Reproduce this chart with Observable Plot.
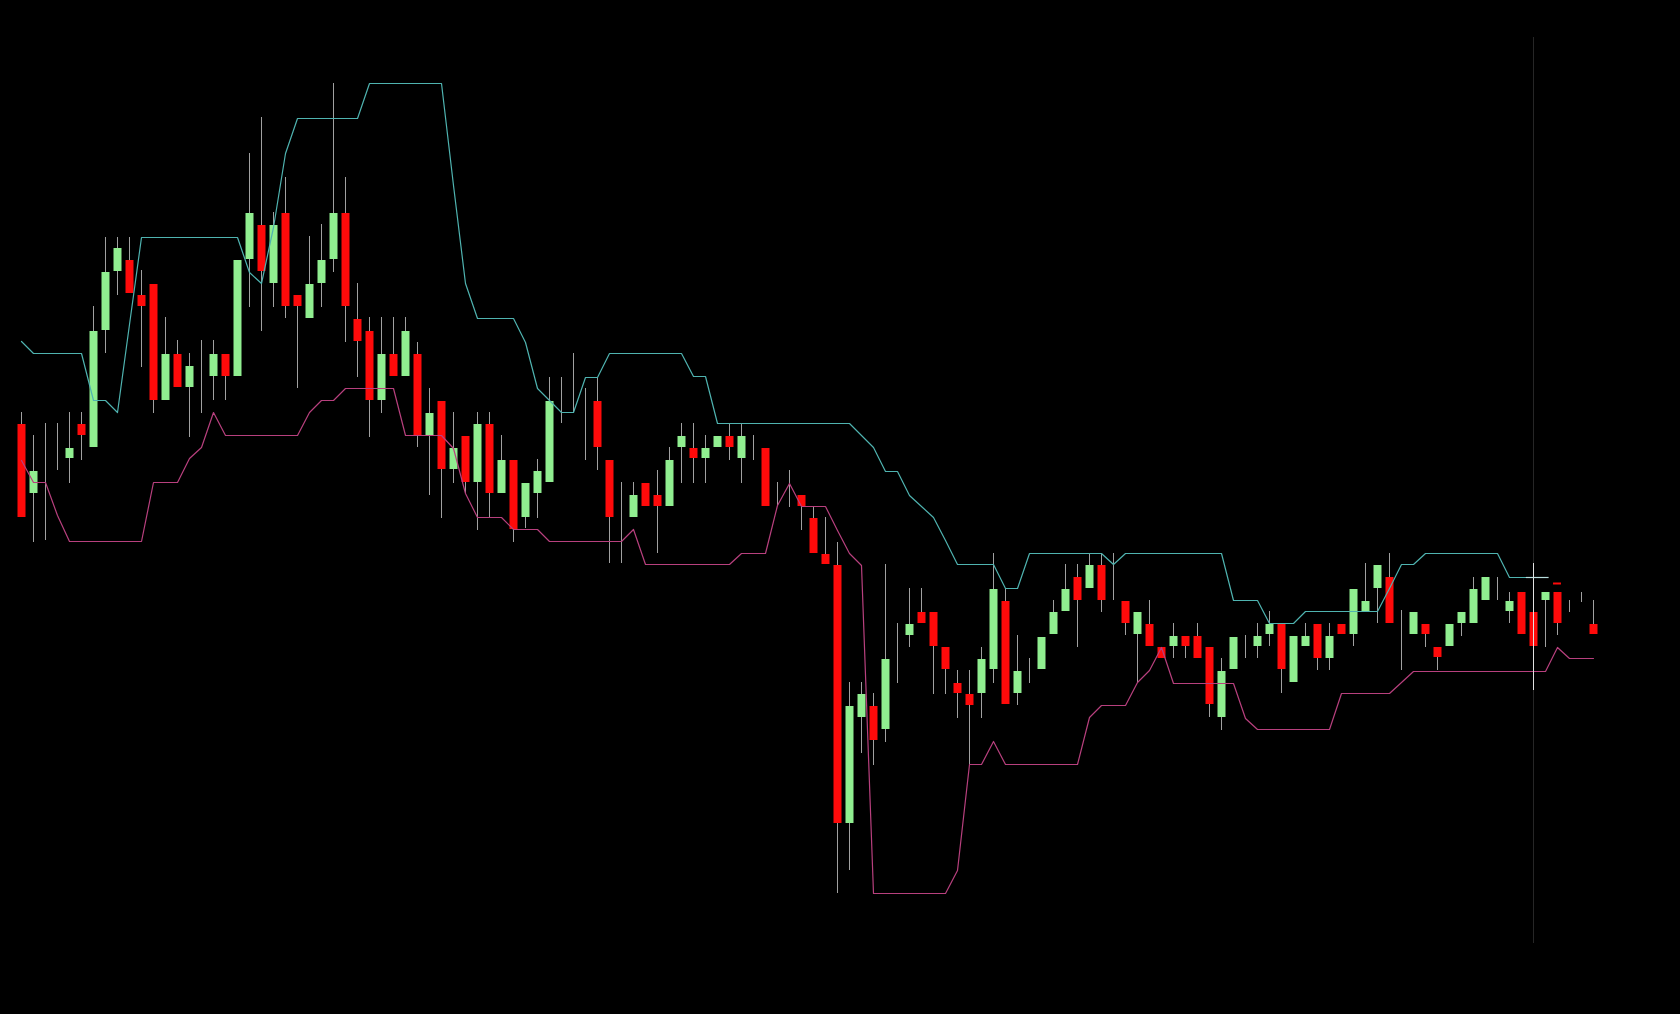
<!DOCTYPE html>
<html>
<head>
<meta charset="utf-8">
<script src="https://cdn.jsdelivr.net/npm/d3@7"></script>
<script src="https://cdn.jsdelivr.net/npm/@observablehq/plot@0.6"></script>
<style>
  html, body { margin: 0; padding: 0; background: #000; overflow: hidden; }
  #chart svg { display: block; }
</style>
</head>
<body>
<div id="chart"></div>
<script>
// OHLC per bar (price units)
const open  = [576,507,518,550,542,576,553,670,729,740,705,716,600,646,613,624,624,646,624,741,775,717,787,705,682,717,741,787,681,669,600,646,624,646,565,599,531,564,518,576,507,540,483,507,518,600,620,580,599,540,480,483,517,505,494,553,552,542,553,564,542,553,552,507,510,505,482,446,435,177,283,294,271,350,365,388,388,353,317,306,307,331,399,307,330,331,366,389,423,412,435,423,399,366,376,353,354,364,364,353,283,331,354,354,366,376,318,354,376,342,376,366,389,412,423,360,366,376,353,354,377,377,400,412,389,408,388,400,408,394,403,376];
const high  = [588,565,577,577,588,588,694,763,763,763,730,716,683,660,647,660,660,646,740,847,883,788,823,705,764,776,917,823,717,683,683,683,683,658,612,599,588,564,588,588,565,540,517,541,623,623,647,612,623,540,518,518,517,530,553,577,577,565,564,577,577,565,552,518,530,505,493,483,458,318,318,307,436,377,412,412,388,353,330,330,353,447,412,365,342,363,400,436,436,447,447,447,399,388,400,353,377,364,377,353,342,363,365,377,389,376,364,377,376,377,376,411,437,435,447,390,388,376,353,376,388,423,423,423,408,408,408,408,408,400,408,400];
const low   = [483,458,460,530,517,540,553,647,705,707,633,587,600,613,563,587,600,600,624,693,669,693,682,612,682,693,728,658,623,563,587,624,624,553,505,482,517,507,470,483,507,458,472,482,518,577,588,540,530,437,437,483,494,447,494,517,517,517,553,540,517,540,494,495,493,470,447,436,107,130,247,235,258,317,353,377,306,306,282,235,282,317,296,295,317,331,366,389,353,412,388,400,365,318,354,342,342,342,342,283,270,331,342,342,354,307,318,354,330,330,366,354,389,377,377,330,366,353,330,354,364,377,400,400,377,366,354,353,365,388,398,366];
const close = [483,529,518,550,552,565,669,728,752,707,694,600,646,613,634,624,646,624,740,787,729,775,694,694,716,740,787,694,659,600,646,624,669,565,587,531,552,518,576,507,540,471,517,529,599,600,620,580,553,483,480,505,494,494,540,564,542,552,564,553,564,553,494,507,510,494,447,436,177,294,306,260,341,350,376,377,354,331,307,295,341,411,296,329,330,363,388,411,400,435,400,423,377,388,354,342,364,354,342,296,329,363,354,364,376,331,364,364,342,364,366,411,399,435,377,360,388,366,343,376,388,411,423,412,399,366,354,408,377,394,403,366];

// Channel lines per bar (null = not drawn)
const upper = [659,647,647,647,647,647,600,600,588,676,763,763,763,763,763,763,763,763,763,728,717,773,847,882,882,882,882,882,882,917,917,917,917,917,917,917,815,717,682,682,682,682,658,612,600,588,588,623,623,647,647,647,647,647,647,647,624,624,577,577,577,577,577,577,577,577,577,577,577,577,565,553,529,529,505,494,483,460,436,436,436,436,412,412,447,447,447,447,447,447,447,436,447,447,447,447,447,447,447,447,447,400,400,400,377,377,377,389,389,389,389,389,389,389,412,436,436,447,447,447,447,447,447,447,423,423,423,423,null,null,null,null];
const lower = [540,518,518,485,459,459,459,459,459,459,459,518,518,518,542,553,588,565,565,565,565,565,565,565,588,600,600,612,612,612,612,612,565,565,565,565,552,507,483,483,483,471,471,471,459,459,459,459,459,459,459,471,436,436,436,436,436,436,436,436,447,447,447,495,517,494,494,494,470,447,435,107,107,107,107,107,107,107,130,236,236,259,236,236,236,236,236,236,236,283,295,295,295,318,330,353,317,317,317,317,317,317,282,271,271,271,271,271,271,271,307,307,307,307,307,318,329,329,329,329,329,329,329,329,329,329,329,329,353,342,342,342];

// Cursor (crosshair) position: bar index and price extents
const cursorBar = [126];
const cursorFaint = [57, 963];
const cursorBright = [310, 437];
const cursorLevel = [423];
// small red marker above bar 128
const markerBar = [128];
const markerLevel = [417];

const bars = open.map((o, i) => ({i, open: o, high: high[i], low: low[i], close: close[i]}));
const channel = upper.map((u, i) => ({i, upper: u, lower: lower[i]}));

const GREEN = "#90ee90", RED = "#ff0a0a";

const chart = Plot.plot({
  width: 1680,
  height: 1014,
  marginLeft: 21,
  marginRight: 87,
  marginTop: 0,
  marginBottom: 0,
  style: {background: "#000", overflow: "visible"},
  x: {domain: [0, 131], axis: null},
  y: {domain: [-14, 1000], axis: null},
  marks: [
    Plot.ruleX(cursorBar, {x: d => d, y1: cursorFaint[0], y2: cursorFaint[1], stroke: "#262626", strokeWidth: 1}),
    Plot.ruleX(bars, {x: "i", y1: "low", y2: "high", stroke: "#a0a0a0", strokeWidth: 1}),
    Plot.ruleX(bars, {x: "i", y1: "open", y2: "close", stroke: d => d.close >= d.open ? GREEN : RED, strokeWidth: 8}),
    Plot.line(channel, {x: "i", y: "upper", stroke: "#4fb3b0", strokeWidth: 1.2, defined: d => d.upper != null}),
    Plot.line(channel, {x: "i", y: "lower", stroke: "#b8407e", strokeWidth: 1.2, defined: d => d.lower != null}),
    Plot.ruleY(markerLevel, {y: d => d, x1: markerBar[0] - 0.33, x2: markerBar[0] + 0.33, stroke: RED, strokeWidth: 2}),
    Plot.ruleY(cursorLevel, {y: d => d, x1: cursorBar[0] - 0.6, x2: cursorBar[0] + 1.3, stroke: "#b8dede", strokeWidth: 1.2}),
    Plot.ruleX(cursorBar, {x: d => d, y1: cursorBright[0], y2: cursorBright[1], stroke: "#e0e0e0", strokeWidth: 1})
  ]
});
document.getElementById("chart").append(chart);
</script>
</body>
</html>
